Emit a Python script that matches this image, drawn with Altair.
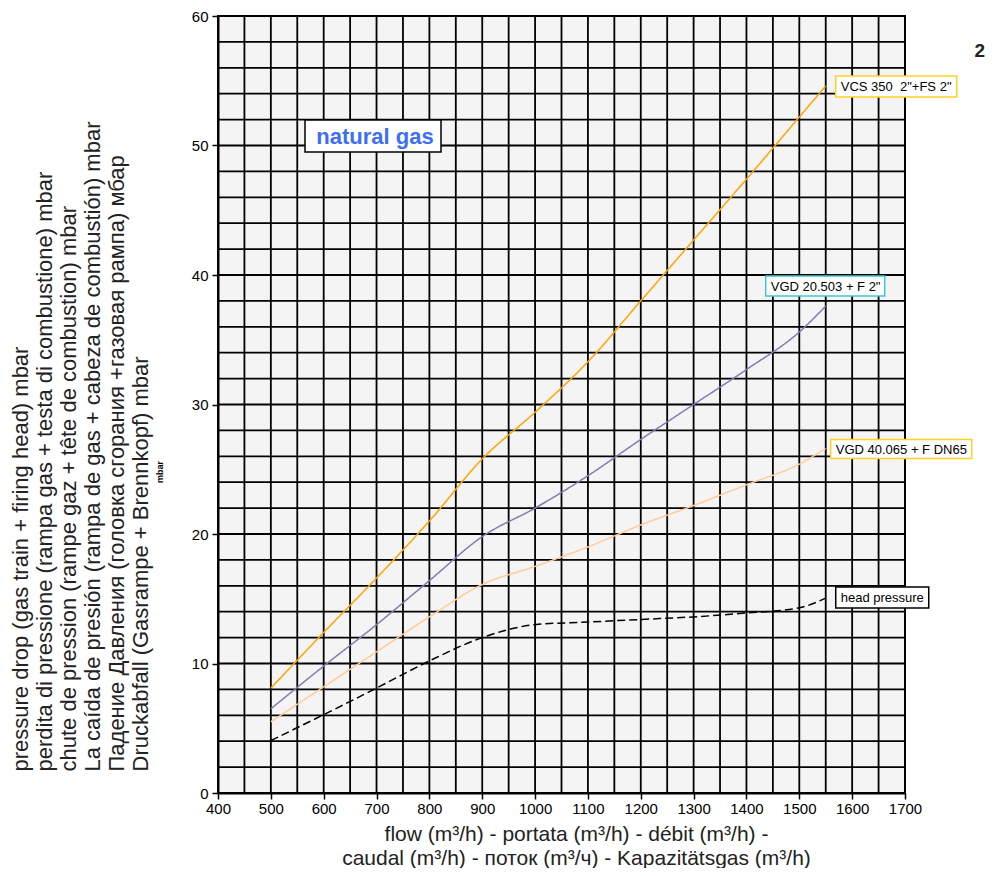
import altair as alt
import pandas as pd

# ---- data ----
flow = [500, 600, 700, 800, 900, 1000, 1100, 1200, 1300, 1400, 1500, 1550]
vcs_350 = [8.1, 12.4, 16.6, 21.0, 25.8, 29.4, 33.3, 38.0, 42.7, 47.4, 52.2, 54.6]
vgd_20503 = [6.5, 9.8, 13.0, 16.4, 19.8, 22.0, 24.5, 27.3, 30.0, 32.7, 35.6, 37.6]
vgd_40065 = [5.5, 8.2, 10.9, 13.6, 16.1, 17.5, 19.0, 20.7, 22.2, 23.8, 25.4, 26.6]
head_pressure = [4.05, 6.05, 8.1, 10.2, 12.0, 13.0, 13.2, 13.4, 13.6, 13.9, 14.3, 15.05]

series_names = ['VCS 350\u00a0 2"+FS 2"', 'VGD 20.503 + F 2"', 'VGD 40.065 + F DN65', 'head pressure']
series_values = [vcs_350, vgd_20503, vgd_40065, head_pressure]
series_colors = ['#ffa500', '#7e7eb2', '#ffcc99', '#000000']
box_colors = ['#ffd21f', '#3fc8d0', '#ffd21f', '#000000']
# box offsets (px) relative to the end point of each curve: dx1, dx2, dy1, dy2
box_offsets = [(10, 131, -10, 11), (-60, 59, -30, -10), (5, 146, -9, 10), (10, 103, -11, 10)]

grid_x = list(range(400, 1701, 50))
grid_y = list(range(0, 61, 2))
tick_x = list(range(400, 1701, 100))
tick_y = list(range(0, 61, 10))

y_title = [
    "pressure drop (gas train + firing head) mbar",
    "perdita di pressione (rampa gas + testa di combustione) mbar",
    "chute de pression (rampe gaz + tête de combustion) mbar",
    "La caída de presión (rampa de gas + cabeza de combustión) mbar",
    "Падение Давления  (головка сгорания +газовая рампа) мбар",
    "Druckabfall (Gasrampe + Brennkopf) mbar",
]
x_title = [
    "flow (m³/h) - portata (m³/h) - débit (m³/h) -",
    "caudal (m³/h) - поток (m³/ч) - Kapazitätsgas (m³/h)",
]

FONT = "Liberation Sans"

rows = []
for name, vals in zip(series_names, series_values):
    for f, v in zip(flow, vals):
        rows.append({"series": name, "flow": f, "p": v})
df = pd.DataFrame(rows)

x_scale = alt.Scale(domain=[400, 1700], nice=False, zero=False)
y_scale = alt.Scale(domain=[0, 60], nice=False)

x_axis = alt.Axis(
    values=tick_x, format="d", grid=False, labelFlush=False,
    domainColor="black", domainWidth=2,
    tickColor="black", tickSize=6, tickWidth=1.5,
    labelFont=FONT, labelFontSize=15, labelColor="black", labelPadding=2,
    title=x_title, titleFont=FONT, titleFontSize=21, titleFontWeight="normal",
    titleColor="#222222", titleLineHeight=24,
    titleX=358, titleY=30, titleAlign="center", titleBaseline="top",
)
y_axis = alt.Axis(
    values=tick_y, format="d", grid=False, labelFlush=False,
    domainColor="black", domainWidth=2,
    tickColor="black", tickSize=6, tickWidth=1.5,
    labelFont=FONT, labelFontSize=15, labelColor="black", labelPadding=4,
    title=y_title, titleFont=FONT, titleFontSize=22, titleFontWeight="normal",
    titleColor="#222222", titleLineHeight=24,
    titleAngle=270, titleAlign="left", titleBaseline="top",
    titleX=-208, titleY=755,
)

# grid lines
gx = alt.Chart(pd.DataFrame({"g": grid_x})).mark_rule(color="black", strokeWidth=1.8).encode(
    x=alt.X("g:Q", scale=x_scale, axis=x_axis)
)
gy = alt.Chart(pd.DataFrame({"g": grid_y})).mark_rule(color="black", strokeWidth=1.8).encode(
    y=alt.Y("g:Q", scale=y_scale, axis=y_axis)
)

lines = alt.Chart(df).mark_line(interpolate="monotone", strokeWidth=1.5).encode(
    x=alt.X("flow:Q", scale=x_scale, axis=x_axis),
    y=alt.Y("p:Q", scale=y_scale, axis=y_axis),
    color=alt.Color("series:N", scale=alt.Scale(domain=series_names, range=series_colors), legend=None),
    strokeDash=alt.StrokeDash("series:N", scale=alt.Scale(domain=series_names,
                                                           range=[[1, 0], [1, 0], [1, 0], [8, 4]]), legend=None),
)

layers = [gx, gy, lines]

for name, vals, bcol, (dx1, dx2, dy1, dy2) in zip(series_names, series_values, box_colors, box_offsets):
    lab = pd.DataFrame({"flow": [flow[-1]], "p": [vals[-1]], "label": [name]})
    box = alt.Chart(lab).mark_rect(
        fill="white", stroke=bcol, strokeWidth=1.5,
        xOffset=dx1, x2Offset=dx2, yOffset=dy1, y2Offset=dy2,
    ).encode(
        x=alt.X("flow:Q", scale=x_scale), x2="flow:Q",
        y=alt.Y("p:Q", scale=y_scale), y2="p:Q",
    )
    txt = alt.Chart(lab).mark_text(
        align="left", baseline="middle", font=FONT, fontSize=13, color="black",
        dx=dx1 + 5, dy=(dy1 + dy2) / 2 + 0.5,
    ).encode(
        x=alt.X("flow:Q", scale=x_scale),
        y=alt.Y("p:Q", scale=y_scale),
        text="label:N",
    )
    layers += [box, txt]

# "natural gas" annotation box
ng = pd.DataFrame({"t": ["natural gas"]})
ng_box = alt.Chart(ng).mark_rect(fill="white", stroke="black", strokeWidth=1.5).encode(
    x=alt.value(87), x2=alt.value(223), y=alt.value(104), y2=alt.value(136)
)
ng_txt = alt.Chart(ng).mark_text(
    font=FONT, fontSize=22, fontWeight="bold", color="#3d6ef5", align="center", baseline="middle"
).encode(x=alt.value(157), y=alt.value(121), text="t:N")

# page number "2"
pg = pd.DataFrame({"t": ["2"]})
pg_txt = alt.Chart(pg).mark_text(
    font=FONT, fontSize=19, fontWeight="bold", color="#222222", align="right", baseline="alphabetic"
).encode(x=alt.value(767), y=alt.value(41), text="t:N")

# small clipped "mbar" fragment
mb = pd.DataFrame({"t": ["mbar"]})
mb_txt = alt.Chart(mb).mark_text(
    font=FONT, fontSize=9, fontWeight="bold", color="black", angle=270, align="center", baseline="middle"
).encode(x=alt.value(-58), y=alt.value(456), text="t:N")

layers += [ng_box, ng_txt, pg_txt, mb_txt]

chart = alt.layer(*layers).properties(
    width=687, height=777,
    autosize=alt.AutoSizeParams(type="none"),
    padding={"left": 210, "top": 8, "right": 80, "bottom": 75},
    background="white",
).configure_view(
    fill="#f4f4f4", stroke="black", strokeWidth=2
)

chart.save("out.html", embed_options={"renderer": "svg", "actions": False})
